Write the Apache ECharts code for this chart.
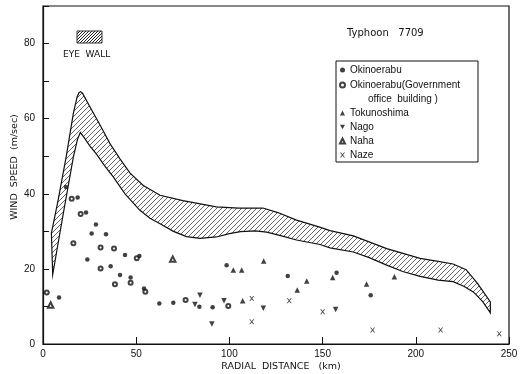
<!DOCTYPE html>
<html>
<head>
<meta charset="utf-8">
<script src="https://cdn.jsdelivr.net/npm/echarts@6/dist/echarts.min.js"></script>
<style>
  html, body { margin: 0; background: #fff; }
  #chart { width: 529px; height: 374px; }
</style>
</head>
<body>
<div id="chart"></div>
<script>
// * Typhoon 7709 - wind speed vs radial distance

// ? eye wall band, [km, m/sec]
const upperEdge = [
  [4.5, 29.5], [8, 38], [12.5, 50], [16.3, 61.5], [18.3, 65.8], [19.3, 66.9], [20.2, 67.2],
  [21.2, 66.8], [22.5, 65.6], [25, 63.3], [30.6, 58.3], [36, 53.3], [41.3, 49.3],
  [46.7, 45.5], [53.8, 42.2], [62.8, 39.6], [75, 38.2], [93, 36.5], [105, 36.2],
  [118, 36.2], [126, 35], [136, 33], [148, 31.2], [154, 30.2], [166.5, 28.8],
  [184.4, 25.4], [202.3, 22.8], [212, 22], [220, 21.3], [227, 19.8], [233, 16.2], [240, 11.2]
]
const lowerEdge = [
  [5.2, 18.5], [8, 26.5], [10.9, 34.8], [13.5, 42], [16.3, 49.8], [18.5, 54.5],
  [20, 56.3], [22, 55], [25, 52.8], [28.8, 50.5], [33, 47.5], [37.7, 44.5], [44, 40],
  [52, 35.6], [57.4, 33.5], [62.8, 32], [70, 30], [77, 28.6], [84.2, 28.1], [93, 28.5],
  [100, 29.4], [106, 29.9], [114, 30.1], [120, 29.8], [128, 28.8], [136, 27.7],
  [148.6, 26.5], [154, 25.6], [166.5, 24.5], [175, 23], [184.4, 21], [193, 19.3],
  [202.3, 18], [212, 17], [220, 16.6], [226, 15.3], [231, 13.8], [236, 11.2], [240, 8.3]
]

// ? stations
const okinoerabu = [
  [8.6, 12.4], [12.3, 41.8], [18.6, 39.0], [23.1, 35.0], [26.1, 29.4], [28.4, 31.8],
  [23.8, 22.5], [33.8, 29.2], [36.3, 20.7], [44, 23.7], [41.3, 18.4], [47, 17.7],
  [51.7, 23.4], [54.2, 14.8], [62.4, 10.8], [69.9, 11.0], [83.9, 9.9], [91, 9.8],
  [98.5, 21.0], [131.3, 18.1], [157.5, 19.0], [175.8, 13.0]
]
const okinoerabuGov = [
  [2, 13.7], [15.4, 38.7], [20.2, 34.6], [16.3, 26.8], [30.9, 25.7], [30.9, 20.1],
  [38.1, 25.4], [38.6, 15.9], [47, 16.3], [50.3, 22.8], [54.9, 13.9], [76.5, 11.7],
  [99.4, 10.1]
]
const tokunoshima = [
  [102.1, 19.7], [106.6, 19.7], [107.1, 11.5], [118.4, 22.1], [136.4, 14.4],
  [141.5, 16.8], [155.4, 17.7], [173.6, 16.0], [188.5, 17.9]
]
const nago = [[81.5, 10.5], [84.2, 13.0], [90.6, 5.3], [97.1, 11.5], [118.2, 9.5], [157, 9.2]]
const naha = [[4.1, 10.4], [69.6, 22.6]]
const naze = [[112, 12.1], [112, 5.9], [132.1, 11.5], [150, 8.6], [176.8, 3.7], [213.3, 3.7], [244.8, 2.7]]

const govName = 'Okinoerabu(Government office building )'
const ink = '#111'
const font = 'Liberation Sans'
const wideFont = 'DejaVu Sans'

// hatch pattern for the eye wall band
function makeHatch (s, w, col) {
  const c = document.createElement('canvas')
  c.width = s
  c.height = s
  const ctx = c.getContext('2d')
  ctx.strokeStyle = col
  ctx.lineWidth = w
  ctx.beginPath()
  ctx.moveTo(0, s); ctx.lineTo(s, 0)
  ctx.moveTo(-1, 1); ctx.lineTo(1, -1)
  ctx.moveTo(s - 1, s + 1); ctx.lineTo(s + 1, s - 1)
  ctx.stroke()
  return c
}
const hatch = { image: makeHatch(5, 0.75, '#333'), repeat: 'repeat' }
const hatchDark = { image: makeHatch(3, 1, '#222'), repeat: 'repeat' }

const downTriangle = 'path://M0,0 L10,0 L5,9 Z'
const cross = 'path://M0,0 L2,0 L5,3.6 L8,0 L10,0 L6,5 L10,10 L8,10 L5,6.4 L2,10 L0,10 L4,5 Z'

const chart = echarts.init(document.getElementById('chart'))

const labelStyle = { fontFamily: font, fontSize: 10, color: ink }

const option = {
  backgroundColor: '#fff',
  animation: false,
  grid: {
    left: 43, right: 20, top: 6, bottom: 30,
    show: true, borderColor: ink, borderWidth: 1.2,
    outerBoundsMode: 'none'
  },
  xAxis: {
    type: 'value', min: 0, max: 250, interval: 50,
    name: 'RADIAL  DISTANCE   (km)',
    nameLocation: 'middle', nameGap: 18, nameMoveOverlap: false,
    nameTextStyle: { fontFamily: wideFont, fontSize: 9.5, color: ink, padding: [0, 0, 0, 10] },
    axisLine: { show: true, lineStyle: { color: ink, width: 1.2 } },
    axisTick: { show: true, inside: true, length: 7, lineStyle: { color: ink } },
    axisLabel: Object.assign({ margin: 5 }, labelStyle),
    splitLine: { show: false }
  },
  yAxis: {
    type: 'value', min: 0, max: 90, interval: 10,
    name: 'WIND  SPEED  (m/sec)',
    nameLocation: 'middle', nameGap: 23, nameRotate: 90, nameMoveOverlap: false,
    nameTextStyle: { fontFamily: wideFont, fontSize: 9.5, color: ink, padding: [0, 0, 0, 16] },
    axisLine: { show: true, lineStyle: { color: ink, width: 1.2 } },
    axisTick: { show: true, inside: true, length: 6, lineStyle: { color: ink } },
    axisLabel: Object.assign({ margin: 8, formatter: v => (v % 20 === 0 ? String(v) : '') }, labelStyle),
    splitLine: { show: false }
  },
  legend: [
    {
      data: ['Okinoerabu', govName],
      orient: 'vertical', left: 339, top: 65, padding: 0,
      itemWidth: 5, itemHeight: 5, itemGap: 5,
      itemStyle: { borderWidth: 0.8 },
      formatter: name => (name === govName ? 'Okinoerabu(Government' : name),
      textStyle: { fontFamily: font, fontSize: 10, color: ink, lineHeight: 10 }
    },
    {
      data: ['Tokunoshima', 'Nago', 'Naha', 'Naze'],
      orient: 'vertical', left: 339, top: 108, padding: 0,
      itemWidth: 5, itemHeight: 5, itemGap: 4,
      itemStyle: { borderWidth: 0.8 },
      textStyle: { fontFamily: font, fontSize: 10, color: ink, lineHeight: 10 }
    }
  ],
  graphic: [
    { type: 'rect', shape: { x: 336, y: 61, width: 142, height: 101 }, style: { fill: 'none', stroke: ink, lineWidth: 1 } },
    { type: 'text', x: 368, y: 99, style: { text: 'office  building )', fontFamily: font, fontSize: 10, fill: ink, verticalAlign: 'middle' } },
    { type: 'text', x: 347, y: 33, style: { text: 'Typhoon   7709', fontFamily: wideFont, fontSize: 10, fill: ink, verticalAlign: 'middle' } },
    { type: 'rect', shape: { x: 77, y: 31, width: 25, height: 12 }, style: { fill: hatchDark, stroke: '#333', lineWidth: 1 } },
    { type: 'text', x: 63, y: 55, style: { text: 'EYE  WALL', fontFamily: wideFont, fontSize: 9, fill: ink, verticalAlign: 'middle' } }
  ],
  series: [
    {
      name: 'Eye wall',
      type: 'custom',
      silent: true,
      z: 1,
      data: [[0, 0]],
      renderItem: function (params, api) {
        const pts = upperEdge.map(p => api.coord(p))
          .concat(lowerEdge.slice().reverse().map(p => api.coord(p)))
        return {
          type: 'polygon',
          shape: { points: pts },
          style: { fill: hatch, stroke: ink, lineWidth: 1.2 }
        }
      }
    },
    { name: 'Okinoerabu', type: 'scatter', data: okinoerabu, symbol: 'circle', symbolSize: 4.5, itemStyle: { color: ink }, z: 3 },
    { name: govName, type: 'scatter', data: okinoerabuGov, symbol: 'emptyCircle', symbolSize: 4, itemStyle: { color: ink, borderWidth: 0.9 }, z: 3 },
    { name: 'Tokunoshima', type: 'scatter', data: tokunoshima, symbol: 'triangle', symbolSize: 5.5, itemStyle: { color: ink }, z: 3 },
    { name: 'Nago', type: 'scatter', data: nago, symbol: downTriangle, symbolSize: 5.5, itemStyle: { color: ink }, z: 3 },
    { name: 'Naha', type: 'scatter', data: naha, symbol: 'emptyTriangle', symbolSize: 5.5, itemStyle: { color: ink, borderWidth: 0.9 }, z: 3 },
    { name: 'Naze', type: 'scatter', data: naze, symbol: cross, symbolSize: 5, itemStyle: { color: ink }, z: 3 }
  ]
}

chart.setOption(option)
</script>
</body>
</html>
